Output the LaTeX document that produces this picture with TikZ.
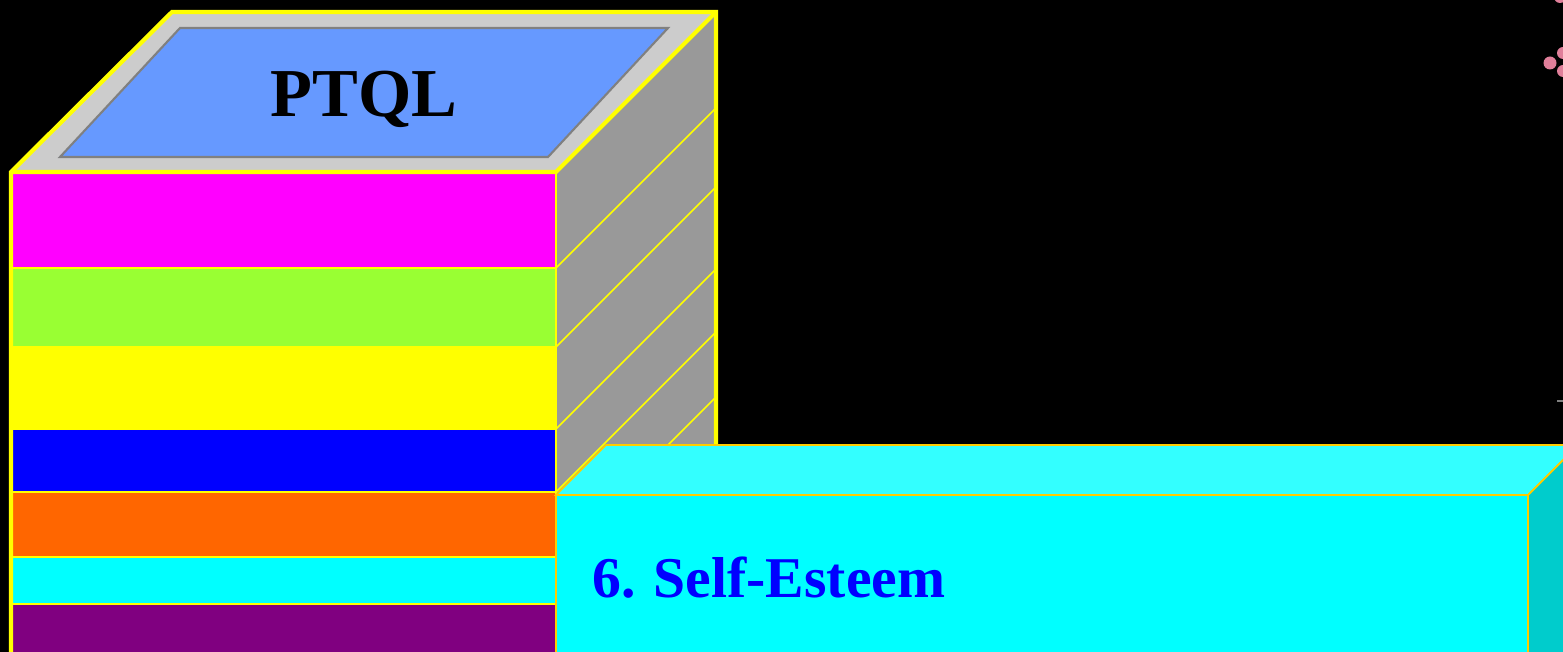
\documentclass[tikz,border=0pt]{standalone}
\usepackage{fontspec}
\setmainfont{Liberation Serif}
\usepackage{tikz}
\usetikzlibrary{positioning}
\definecolor{topgray}{HTML}{CCCCCC}
\definecolor{sidegray}{HTML}{999999}
\definecolor{skyblue}{HTML}{6699FF}
\definecolor{pink}{HTML}{FF00FF}
\definecolor{lime}{HTML}{99FF33}
\definecolor{lemon}{HTML}{FFFF00}
\definecolor{royal}{HTML}{0000FF}
\definecolor{orng}{HTML}{FF6600}
\definecolor{aqua}{HTML}{00FFFF}
\definecolor{purp}{HTML}{800080}
\definecolor{aquatop}{HTML}{33FFFF}
\definecolor{aquaside}{HTML}{00CCCC}
\definecolor{edgeorange}{HTML}{FFCC00}
\definecolor{petal}{HTML}{E07F9A}

\begin{document}
\begin{tikzpicture}[x=0.01cm, y=-0.01cm,
    rim/.style={draw=lemon, line width=1.2pt, line join=miter},
    layer/.style={draw=lemon, line width=0.6pt},
    cbox/.style={draw=edgeorange, line width=0.5pt},
    title/.style={font=\bfseries\fontsize{19.5}{22}\selectfont, text=black, inner sep=0pt},
    tag/.style={font=\bfseries\fontsize{16.4}{20}\selectfont, text=royal, inner sep=0pt}]
    \fill [black] (0,0) rectangle (1563,652);
    \useasboundingbox (0,0) rectangle (1563,652);
    \begin{scope}
    \clip (0,0) rectangle (1563,652);
    \fill [topgray] (11,172) -- (172,12) -- (716,12) -- (556,172) -- cycle;
    \filldraw [fill=skyblue, draw=gray, line width=0.6pt] (60,157) -- (180,28) -- (668,28) -- (548,157) -- cycle;
    \fill [sidegray] (556,172) -- (716,12) -- (716,652) -- (556,652) -- cycle;
    \foreach \y in {268,347,429,492,557,604}
        \draw [layer, line width=0.45pt] (556,\y) -- (716,\y-160);
    \foreach \top/\bot/\col in {172/268/pink, 268/347/lime, 347/429/lemon, 429/492/royal, 492/557/orng, 557/604/aqua, 604/660/purp}
        \fill [\col] (11,\top) rectangle (556,\bot);
    \foreach \y in {268,347,429,492,557,604}
        \draw [layer] (11,\y) -- (556,\y);
    \draw [rim] (11,660) -- (11,172) -- (172,12) -- (716,12) -- (716,660);
    \draw [rim] (11,172) -- (556,172) -- (716,12);
    \draw [rim, line width=0.8pt] (556,172) -- (556,660);
    \filldraw [cbox, fill=aquatop] (556,495) -- (606,445) -- (1578,445) -- (1528,495) -- cycle;
    \filldraw [cbox, fill=aquaside] (1528,495) -- (1578,445) -- (1578,660) -- (1528,660) -- cycle;
    \filldraw [cbox, fill=aqua] (556,495) rectangle (1528,660);
    \fill [petal] (1550,63) circle (6.5);
    \fill [petal] (1563,53) circle (6);
    \fill [petal] (1563,71) circle (6);
    \fill [petal] (1560,-3) circle (6);
    \draw [gray, line width=0.4pt] (1557,401) -- (1563,401);
    \end{scope}
    \node [title, anchor=base] (ptql) at (364,117) {PTQL};
    \node [tag, anchor=base west] (esteem) at (592,598) {\frenchspacing 6.\hspace{0.06em} Self-Esteem};
\end{tikzpicture}
\end{document}
